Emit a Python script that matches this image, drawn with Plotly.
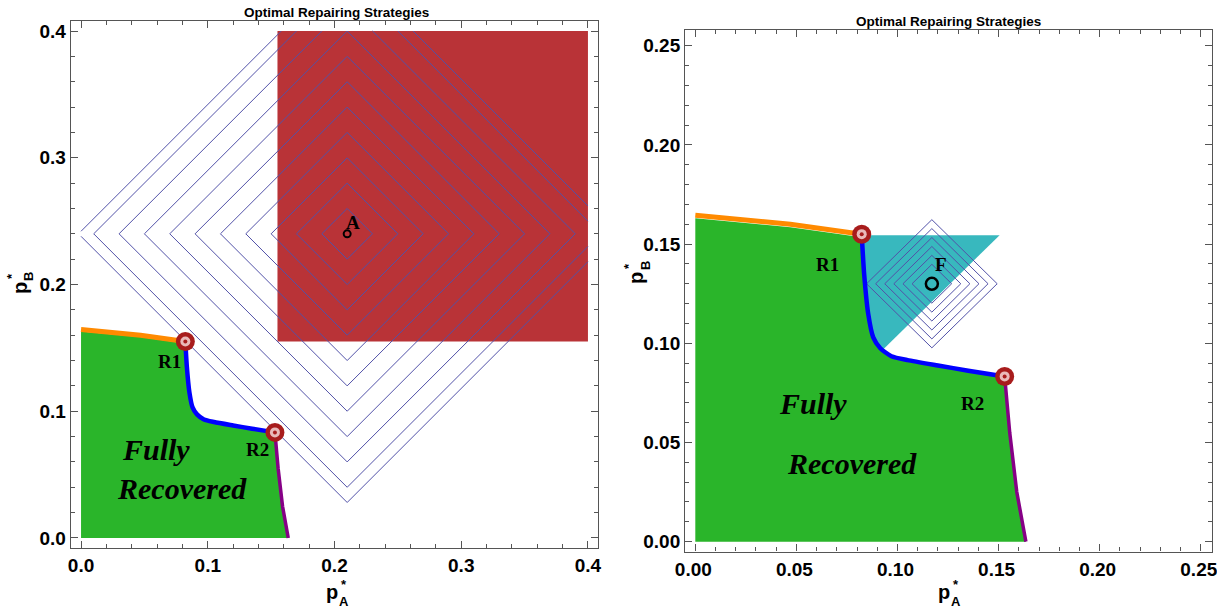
import plotly.graph_objects as go

W, H = 1217, 612

# ---------------- data ----------------
# boundary of the fully-recovered region (shared by both panels)
orange_x = [0.0, 0.047, 0.0823]
orange_y = [0.1645, 0.160, 0.155]
blue_x = [0.0823, 0.0835, 0.0855, 0.088, 0.0915, 0.097, 0.105, 0.120, 0.135, 0.153]
blue_y = [0.155, 0.135, 0.115, 0.103, 0.0975, 0.0935, 0.0915, 0.0888, 0.0862, 0.0833]
purple_x = [0.153, 0.1555, 0.159, 0.1635]
purple_y = [0.0833, 0.055, 0.025, 0.0]

# special points
r_labels = ["R1", "R2"]
r_x = [0.0823, 0.153]
r_y = [0.155, 0.0833]

# left panel: red region and point A with contours
red_x = [0.155, 0.4, 0.4, 0.155]
red_y = [0.155, 0.155, 0.4, 0.4]
A_x, A_y = 0.21, 0.24
levels_A = [0.02, 0.04, 0.06, 0.08, 0.10, 0.12, 0.14, 0.16, 0.18, 0.20, 0.212]
box_A = (0.0, 0.4, 0.0, 0.4)

# right panel: cyan region and point F with contours
cyan_x = [0.0823, 0.1505, 0.0925, 0.0895, 0.0865, 0.0838]
cyan_y = [0.1545, 0.1545, 0.0965, 0.099, 0.108, 0.130]
F_x, F_y = 0.117, 0.130
levels_F = [0.0098, 0.0143, 0.0188, 0.0233, 0.0278, 0.0323]

# axes
left_range = [-0.008, 0.408]
right_xrange = [-0.005, 0.2555]
right_yrange = [-0.005, 0.258]

GREEN = "#2AB52A"
RED = "#B93337"
CYAN = "#38B8BE"
ORANGE = "#FF8A00"
BLUE = "#0000FF"
PURPLE = "#860086"
CONT = "#5252A8"
DKRED = "#A81C1C"
PINK = "#E9B9B9"


def clip_seg(x0, y0, x1, y1, xmin, xmax, ymin, ymax):
    dx, dy = x1 - x0, y1 - y0
    p = [-dx, dx, -dy, dy]
    q = [x0 - xmin, xmax - x0, y0 - ymin, ymax - y0]
    u0, u1 = 0.0, 1.0
    for pi, qi in zip(p, q):
        if pi == 0:
            if qi < 0:
                return None
        else:
            t = qi / pi
            if pi < 0:
                if t > u1:
                    return None
                u0 = max(u0, t)
            else:
                if t < u0:
                    return None
                u1 = min(u1, t)
    return (x0 + u0 * dx, y0 + u0 * dy, x0 + u1 * dx, y0 + u1 * dy)


def diamonds(cx, cy, levels, box=None):
    xs, ys = [], []
    for c in levels:
        verts = [(cx + c, cy), (cx, cy + c), (cx - c, cy), (cx, cy - c), (cx + c, cy)]
        if box is None:
            xs += [v[0] for v in verts] + [None]
            ys += [v[1] for v in verts] + [None]
        else:
            for (a, b), (c2, d) in zip(verts[:-1], verts[1:]):
                r = clip_seg(a, b, c2, d, *box)
                if r:
                    xs += [r[0], r[2], None]
                    ys += [r[1], r[3], None]
    return xs, ys


fig = go.Figure()

green_x = [0.0] + orange_x + blue_x[1:] + purple_x[1:] + [0.0]
green_y = [0.0] + [v - 0.0015 for v in orange_y] + blue_y[1:] + purple_y[1:] + [0.0]

for xa, ya in [("x", "y"), ("x2", "y2")]:
    if xa == "x":
        fig.add_trace(go.Scatter(x=red_x, y=red_y, fill="toself", fillcolor=RED, mode="none",
                                 xaxis=xa, yaxis=ya, showlegend=False))
    else:
        fig.add_trace(go.Scatter(x=cyan_x, y=cyan_y, fill="toself", fillcolor=CYAN, mode="none",
                                 xaxis=xa, yaxis=ya, showlegend=False))
    fig.add_trace(go.Scatter(x=green_x, y=green_y, fill="toself", fillcolor=GREEN, mode="none",
                             xaxis=xa, yaxis=ya, showlegend=False))
    if xa == "x":
        cx, cy = diamonds(A_x, A_y, levels_A, box_A)
    else:
        cx, cy = diamonds(F_x, F_y, levels_F)
    fig.add_trace(go.Scatter(x=cx, y=cy, mode="lines", line=dict(color=CONT, width=1),
                             xaxis=xa, yaxis=ya, showlegend=False))
    fig.add_trace(go.Scatter(x=orange_x, y=orange_y, mode="lines", line=dict(color=ORANGE, width=5),
                             xaxis=xa, yaxis=ya, showlegend=False))
    fig.add_trace(go.Scatter(x=blue_x, y=blue_y, mode="lines", line=dict(color=BLUE, width=4.5, shape="spline", smoothing=0.6),
                             xaxis=xa, yaxis=ya, showlegend=False))
    fig.add_trace(go.Scatter(x=purple_x, y=purple_y, mode="lines", line=dict(color=PURPLE, width=3.5),
                             xaxis=xa, yaxis=ya, showlegend=False))
    for size, col in [(19, DKRED), (10, PINK), (4, DKRED)]:
        fig.add_trace(go.Scatter(x=r_x, y=r_y, mode="markers",
                                 marker=dict(size=size, color=col, line=dict(width=0)),
                                 xaxis=xa, yaxis=ya, showlegend=False))

# A and F markers
fig.add_trace(go.Scatter(x=[A_x], y=[A_y], mode="markers",
                         marker=dict(size=7, color="rgba(0,0,0,0)", line=dict(color="black", width=2)),
                         xaxis="x", yaxis="y", showlegend=False))
fig.add_trace(go.Scatter(x=[F_x], y=[F_y], mode="markers",
                         marker=dict(size=12, color="rgba(0,0,0,0)", line=dict(color="black", width=2.5)),
                         xaxis="x2", yaxis="y2", showlegend=False))

tickfont = dict(family="Liberation Sans", size=19, color="black", weight="bold")
common = dict(showline=True, linecolor="#555", linewidth=1.3, mirror="ticks", ticks="inside",
              ticklen=7, tickwidth=1.2, tickcolor="#555", showgrid=False, zeroline=False,
              tickfont=tickfont, tick0=0, automargin=False, ticklabeloverflow="allow")

fig.update_layout(
    width=W, height=H, margin=dict(l=0, r=0, t=0, b=0, autoexpand=False),
    paper_bgcolor="white", plot_bgcolor="white", showlegend=False,
    xaxis=dict(domain=[0.05826, 0.49145], range=left_range, dtick=0.1, tickformat=".1f",
               minor=dict(ticks="inside", ticklen=4, dtick=0.02, tickcolor="#555", tickwidth=1), anchor="y", **common),
    yaxis=dict(domain=[0.10441, 0.96585], range=left_range, dtick=0.1, tickformat=".1f",
               minor=dict(ticks="inside", ticklen=4, dtick=0.02, tickcolor="#555", tickwidth=1), anchor="x", **common),
    xaxis2=dict(domain=[0.56302, 0.99581], range=right_xrange, dtick=0.05, tickformat=".2f", ticklabelshift=-2,
                minor=dict(ticks="inside", ticklen=4, dtick=0.01, tickcolor="#555", tickwidth=1), anchor="y2", **common),
    yaxis2=dict(domain=[0.09869, 0.95131], range=right_yrange, dtick=0.05, tickformat=".2f",
                minor=dict(ticks="inside", ticklen=4, dtick=0.01, tickcolor="#555", tickwidth=1), anchor="x2", **common),
)

ann = []
serif = "Liberation Serif"


def text(x, y, s, xref, yref, size, italic=False, bold=True, family=serif, **kw):
    ann.append(dict(x=x, y=y, xref=xref, yref=yref, text=s, showarrow=False,
                    xanchor="center", yanchor="middle",
                    font=dict(family=family, size=size, color="black",
                              weight="bold" if bold else "normal",
                              style="italic" if italic else "normal"), **kw))


# left panel labels
text(0.070, 0.139, "R1", "x", "y", 19)
text(0.1396, 0.070, "R2", "x", "y", 19)
text(0.059, 0.070, "Fully", "x", "y", 30, italic=True)
text(0.0797, 0.0387, "Recovered", "x", "y", 30, italic=True)
text(0.2146, 0.2493, "A", "x", "y", 19)
# right panel labels
text(0.0653, 0.1398, "R1", "x2", "y2", 19)
text(0.137, 0.0698, "R2", "x2", "y2", 19)
text(0.0584, 0.0698, "Fully", "x2", "y2", 30, italic=True)
text(0.0776, 0.0396, "Recovered", "x2", "y2", 30, italic=True)
text(0.1217, 0.1398, "F", "x2", "y2", 19)

# titles
sans = "Liberation Sans"
text(336 / W, 1 - 12 / H, "Optimal Repairing Strategies", "paper", "paper", 13.5, family=sans)
text(948 / W, 1 - 22 / H, "Optimal Repairing Strategies", "paper", "paper", 13.5, family=sans)

# axis titles p*_A and p*_B (stacked super/subscript)
for cxp in [336, 948]:
    text((cxp - 4) / W, 1 - 592 / H, "p", "paper", "paper", 20, family=sans)
    text((cxp + 8) / W, 1 - 584 / H, "*", "paper", "paper", 13, family=sans)
    text((cxp + 8) / W, 1 - 601 / H, "A", "paper", "paper", 13, family=sans)
for cxp, cyp in [(20, 288), (636, 278)]:
    text(cxp / W, 1 - cyp / H, "p", "paper", "paper", 20, family=sans, textangle=-90)
    text((cxp - 8) / W, 1 - (cyp - 12) / H, "*", "paper", "paper", 13, family=sans, textangle=-90)
    text((cxp + 9) / W, 1 - (cyp - 12) / H, "B", "paper", "paper", 13, family=sans, textangle=-90)

fig.update_layout(annotations=ann)
fig.write_html("out.html")
